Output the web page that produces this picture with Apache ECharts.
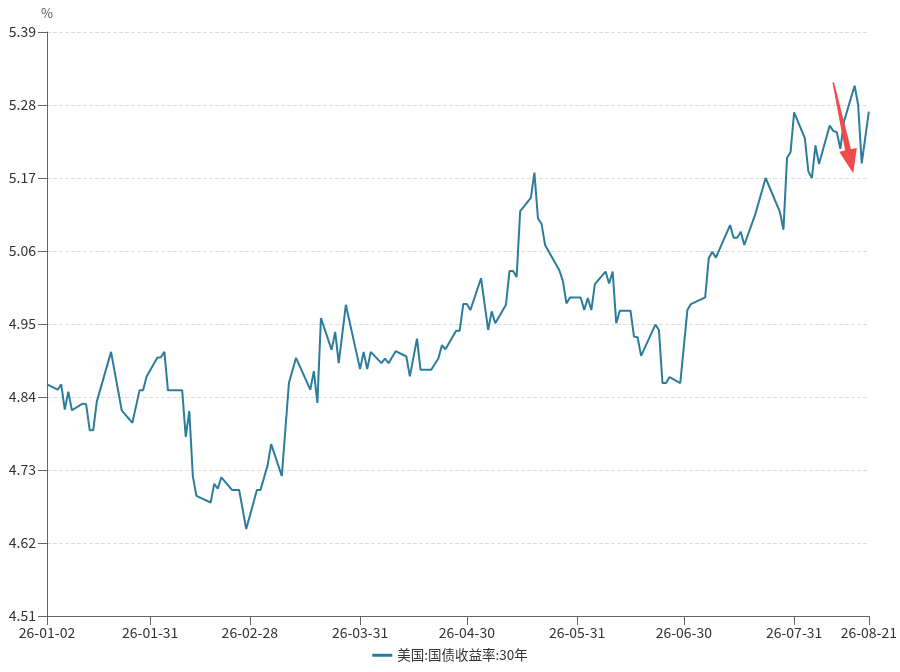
<!DOCTYPE html>
<html>
<head>
<meta charset="utf-8">
<script src="https://cdn.jsdelivr.net/npm/echarts@6/dist/echarts.min.js"></script>
<style>
  html, body { margin: 0; padding: 0; background: #fff; }
  #chart { width: 900px; height: 672px; }
</style>
</head>
<body>
<div id="chart"></div>
<script>
// 线条主色
const LINE_COLOR = '#2C7C9C'
const ARROW_COLOR = '#F04A4A'
const AXIS_COLOR = '#666666'
const FONT = '"Noto Sans CJK SC", "Noto Sans", sans-serif'

const SERIES_NAME = '美国:国债收益率:30年'

// 交易日
const dates = [
  '2026-01-02', '2026-01-05', '2026-01-06', '2026-01-07', '2026-01-08', '2026-01-09',
  '2026-01-12', '2026-01-13', '2026-01-14', '2026-01-15', '2026-01-16', '2026-01-20',
  '2026-01-23', '2026-01-26', '2026-01-28', '2026-01-29', '2026-01-30',
  '2026-02-02', '2026-02-03', '2026-02-04', '2026-02-05', '2026-02-09', '2026-02-10',
  '2026-02-11', '2026-02-12', '2026-02-13', '2026-02-17', '2026-02-18', '2026-02-19',
  '2026-02-20', '2026-02-23', '2026-02-25', '2026-02-27',
  '2026-03-02', '2026-03-03', '2026-03-05', '2026-03-06', '2026-03-09', '2026-03-11',
  '2026-03-13', '2026-03-17', '2026-03-18', '2026-03-19', '2026-03-20', '2026-03-23',
  '2026-03-24', '2026-03-25', '2026-03-27', '2026-03-31',
  '2026-04-01', '2026-04-02', '2026-04-03', '2026-04-06', '2026-04-07', '2026-04-08',
  '2026-04-10', '2026-04-13', '2026-04-14', '2026-04-16', '2026-04-17', '2026-04-20',
  '2026-04-22', '2026-04-23', '2026-04-24', '2026-04-27', '2026-04-28', '2026-04-29',
  '2026-04-30',
  '2026-05-01', '2026-05-04', '2026-05-06', '2026-05-07', '2026-05-08', '2026-05-11',
  '2026-05-12', '2026-05-13', '2026-05-14', '2026-05-15', '2026-05-18', '2026-05-19',
  '2026-05-20', '2026-05-21', '2026-05-22', '2026-05-26', '2026-05-27', '2026-05-28',
  '2026-05-29',
  '2026-06-01', '2026-06-02', '2026-06-03', '2026-06-04', '2026-06-05', '2026-06-08',
  '2026-06-09', '2026-06-10', '2026-06-11', '2026-06-12', '2026-06-15', '2026-06-16',
  '2026-06-17', '2026-06-18', '2026-06-22', '2026-06-23', '2026-06-24', '2026-06-25',
  '2026-06-26', '2026-06-29',
  '2026-07-01', '2026-07-02', '2026-07-06', '2026-07-07', '2026-07-08', '2026-07-09',
  '2026-07-13', '2026-07-14', '2026-07-15', '2026-07-16', '2026-07-17', '2026-07-20',
  '2026-07-23', '2026-07-27', '2026-07-28', '2026-07-29', '2026-07-30', '2026-07-31',
  '2026-08-03', '2026-08-04', '2026-08-05', '2026-08-06', '2026-08-07', '2026-08-10',
  '2026-08-11', '2026-08-12', '2026-08-13', '2026-08-14', '2026-08-17', '2026-08-18',
  '2026-08-19', '2026-08-21'
]

// 收益率 (%)
const yields = [
  4.859, 4.851, 4.859, 4.821, 4.848, 4.820,
  4.830, 4.829, 4.790, 4.790, 4.833, 4.908,
  4.820, 4.801, 4.850, 4.850, 4.871,
  4.899, 4.900, 4.908, 4.850, 4.850, 4.780,
  4.819, 4.720, 4.691, 4.681, 4.709, 4.702,
  4.719, 4.700, 4.700, 4.641,
  4.700, 4.700, 4.737, 4.769, 4.721, 4.861,
  4.899, 4.851, 4.879, 4.831, 4.959, 4.911,
  4.938, 4.891, 4.979, 4.882,
  4.908, 4.882, 4.908, 4.891, 4.898, 4.891,
  4.909, 4.901, 4.871, 4.928, 4.881, 4.881,
  4.898, 4.918, 4.912, 4.940, 4.940, 4.980,
  4.980,
  4.971, 5.019, 4.941, 4.969, 4.951, 4.979,
  5.030, 5.030, 5.021, 5.120, 5.140, 5.178,
  5.109, 5.101, 5.069, 5.031, 5.015, 4.981,
  4.990,
  4.990, 4.971, 4.989, 4.971, 5.010, 5.029,
  5.011, 5.029, 4.951, 4.970, 4.970, 4.931,
  4.930, 4.902, 4.949, 4.941, 4.861, 4.861,
  4.870, 4.861,
  4.971, 4.980, 4.990, 5.049, 5.059, 5.050,
  5.099, 5.080, 5.080, 5.089, 5.069, 5.114,
  5.170, 5.119, 5.092, 5.200, 5.209, 5.269,
  5.230, 5.180, 5.170, 5.219, 5.191, 5.249,
  5.241, 5.239, 5.214, 5.255, 5.309, 5.280,
  5.192, 5.270
]

// x轴刻度标签
const xTicks = [
  '2026-01-02', '2026-01-31', '2026-02-28', '2026-03-31', '2026-04-30',
  '2026-05-31', '2026-06-30', '2026-07-31', '2026-08-21'
]

// y轴范围
const Y_MIN = 4.51
const Y_MAX = 5.39
const Y_STEP = 0.11

// 箭头（数据坐标）：起点、终点
const arrowFrom = ['2026-08-11', 5.314]
const arrowTo = ['2026-08-16', 5.177]

const DAY = 24 * 3600 * 1000

// 日期 -> 天数（以UTC计，避免时区问题）
function toDay(s) {
  const p = s.split('-').map(Number)
  return Date.UTC(p[0], p[1] - 1, p[2]) / DAY
}

function fmtDate(v) {
  const d = new Date(Math.round(v) * DAY)
  const pad = n => String(n).padStart(2, '0')
  return String(d.getUTCFullYear()).slice(2) + '-' + pad(d.getUTCMonth() + 1) + '-' + pad(d.getUTCDate())
}

const chart = echarts.init(document.getElementById('chart'))

chart.setOption({
  backgroundColor: '#FFFFFF',
  animation: false,
  textStyle: { fontFamily: FONT },
  grid: {
    left: 47,
    right: 31,
    top: 32,
    bottom: 56
  },
  legend: {
    bottom: 5,
    left: 'center',
    icon: 'rect',
    itemWidth: 20,
    itemHeight: 3,
    itemGap: 10,
    textStyle: {
      color: '#333',
      fontSize: 13.5,
      fontFamily: FONT
    },
    data: [SERIES_NAME]
  },
  xAxis: {
    type: 'value',
    min: toDay(xTicks[0]),
    max: toDay(xTicks[xTicks.length - 1]),
    axisLine: {
      onZero: false,
      lineStyle: { color: AXIS_COLOR, width: 1 }
    },
    axisTick: {
      show: true,
      length: 9,
      customValues: xTicks.map(toDay),
      lineStyle: { color: AXIS_COLOR }
    },
    axisLabel: {
      customValues: xTicks.map(toDay),
      formatter: v => fmtDate(v),
      color: '#333',
      fontSize: 14,
      margin: 10
    },
    splitLine: { show: false }
  },
  yAxis: {
    type: 'value',
    name: '%',
    nameLocation: 'end',
    nameGap: 12,
    nameTextStyle: {
      color: '#555',
      fontSize: 13,
      align: 'center'
    },
    min: Y_MIN,
    max: Y_MAX,
    interval: Y_STEP,
    axisLine: {
      show: true,
      lineStyle: { color: AXIS_COLOR, width: 1 }
    },
    axisTick: {
      show: true,
      length: 9,
      lineStyle: { color: AXIS_COLOR }
    },
    axisLabel: {
      color: '#333',
      fontSize: 14,
      margin: 11,
      formatter: v => v.toFixed(2)
    },
    splitLine: {
      lineStyle: { color: '#DDDDDD', type: 'dashed', width: 1 }
    }
  },
  series: [{
    name: SERIES_NAME,
    type: 'line',
    data: dates.map((d, i) => [toDay(d), yields[i]]),
    showSymbol: false,
    symbol: 'none',
    lineStyle: {
      color: LINE_COLOR,
      width: 2
    },
    itemStyle: {
      color: LINE_COLOR
    }
  }]
})

// 红色箭头标注
function drawArrow() {
  const a = chart.convertToPixel({ gridIndex: 0 }, [toDay(arrowFrom[0]), arrowFrom[1]])
  const b = chart.convertToPixel({ gridIndex: 0 }, [toDay(arrowTo[0]) + 0.6, arrowTo[1]])
  const dx = b[0] - a[0]
  const dy = b[1] - a[1]
  const len = Math.sqrt(dx * dx + dy * dy)
  const ux = dx / len
  const uy = dy / len
  const nx = -uy
  const ny = ux
  const headLen = 24
  const headHalf = 9
  const tailHalf = 0.8
  const neckHalf = 3
  const base = [b[0] - ux * headLen, b[1] - uy * headLen]
  const pts = [
    [a[0] + nx * tailHalf, a[1] + ny * tailHalf],
    [base[0] + nx * neckHalf, base[1] + ny * neckHalf],
    [base[0] + nx * headHalf, base[1] + ny * headHalf],
    [b[0], b[1]],
    [base[0] - nx * headHalf, base[1] - ny * headHalf],
    [base[0] - nx * neckHalf, base[1] - ny * neckHalf],
    [a[0] - nx * tailHalf, a[1] - ny * tailHalf]
  ]
  chart.setOption({
    graphic: [{
      type: 'polygon',
      z: 100,
      shape: { points: pts },
      style: { fill: ARROW_COLOR }
    }]
  })
}

drawArrow()
</script>
</body>
</html>
